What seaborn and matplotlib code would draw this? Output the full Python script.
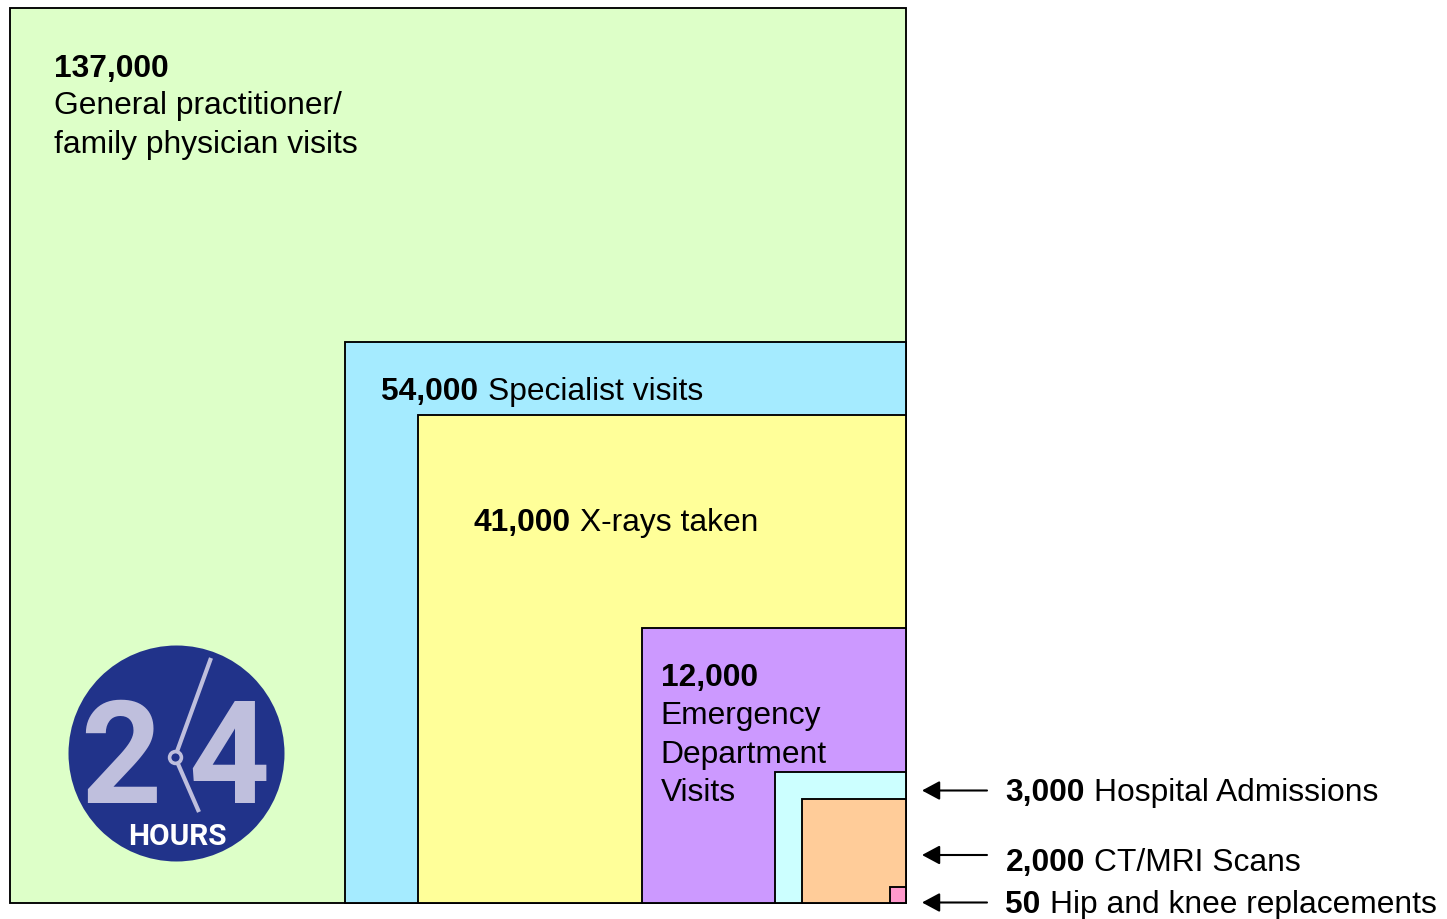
import matplotlib
matplotlib.use("Agg")
import matplotlib.pyplot as plt
import numpy as np
import seaborn as sns

# side of each box expressed as a count
# (the drawn boxes are not exact squares of the labelled counts)
width_counts = [137300, 53830, 40730, 11920, 2935, 1850, 44]
height_counts = [137000, 53830, 40730, 12935, 2935, 1850, 44]
colors = ['#DDFFC8', '#A5EBFF', '#FFFF99', '#CC99FF', '#CCFFFF', '#FFCC99', '#FF99CC']

# px per sqrt(count), boxes sit in the bottom right corner
K = 2.418
RIGHT = 905.6
BOTTOM = 903.8
W, H = 1447, 920

sns.set_theme(style="white")
plt.rcParams['font.family'] = ['Liberation Sans', 'DejaVu Sans']

fig = plt.figure(figsize=(W / 100, H / 100), dpi=100)
ax = fig.add_axes([0, 0, 1, 1])

for wc, hc, col in zip(width_counts, height_counts, colors):
    side_w = np.sqrt(wc)
    side_h = np.sqrt(hc)
    sns.barplot(x=[-side_w / 2], y=[side_h], width=side_w, native_scale=True, orient='x',
                color=col, saturation=1, edgecolor='black', linewidth=1.35, ax=ax)

ax.set_xlim(-RIGHT / K, (W - RIGHT) / K)
ax.set_ylim(-(H - BOTTOM) / K, BOTTOM / K)
ax.axis('off')


def px(x, y):
    return (x / W, 1 - y / H)


def label(x, y, bold=None, normal=None, size=22.9):
    # bold number first, then the normal text right after it
    xf, yf = px(x, y)
    if bold:
        t = fig.text(xf, yf, bold, fontsize=size, fontweight='bold', va='baseline', color='black')
        if normal:
            fig.canvas.draw()
            xf = (t.get_window_extent().x1 + 9) / W
    if normal:
        fig.text(xf, yf, normal, fontsize=size, va='baseline', color='black')


label(54, 77, '137,000')
label(54, 114, None, 'General practitioner/')
label(54, 153, None, 'family physician visits')
label(381.5, 400, '54,000', 'Specialist visits')
label(474, 531, '41,000', 'X-rays taken')
label(661, 686, '12,000')
label(660.5, 724, None, 'Emergency')
label(660.5, 763, None, 'Department')
label(661, 801, None, 'Visits')
label(1005.5, 801, '3,000', 'Hospital Admissions')
label(1005.5, 871, '2,000', 'CT/MRI Scans')
label(1005.5, 913, '50', 'Hip and knee replacements')

# arrows
for y in [791.5, 856, 903.5]:
    ax.annotate('', xy=px(922, y), xytext=px(987, y), xycoords='figure fraction',
                textcoords='figure fraction',
                arrowprops=dict(arrowstyle='-|>,head_length=1.08,head_width=0.58', color='black',
                                lw=1.5, shrinkA=0, shrinkB=0, mutation_scale=10))

# 24 hours badge, placed in figure fractions
tr = fig.transFigure
navy = '#21338A'
pale = '#BFBFDD'
fig.add_artist(plt.Line2D([176 / W], [1 - 754 / H], marker='o', ms=216 * 0.72, mfc=navy, mec=navy,
                          mew=0, transform=tr))
xf, yf = px(120.5, 803)
fig.text(xf, yf, '2', fontsize=102, fontweight='bold', color=pale, ha='center', va='baseline', family='Roboto')
xf, yf = px(229, 803)
fig.text(xf, yf, '4', fontsize=102, fontweight='bold', color=pale, ha='center', va='baseline', family='Roboto')
for end in [(211, 659), (199, 813)]:
    a = px(175, 758)
    b = px(*end)
    fig.add_artist(plt.Line2D([a[0], b[0]], [a[1], b[1]], color=pale, lw=3, transform=tr, solid_capstyle='butt'))
fig.add_artist(plt.Line2D([175 / W], [1 - 758 / H], marker='o', ms=8.5, mfc=navy, mec=pale, mew=2.6, transform=tr))
xf, yf = px(177, 845)
fig.text(xf, yf, 'HOURS', fontsize=21.5, fontweight='bold', color='white', ha='center', va='baseline',
         family='Roboto')

fig.savefig('out.png', dpi=100)
